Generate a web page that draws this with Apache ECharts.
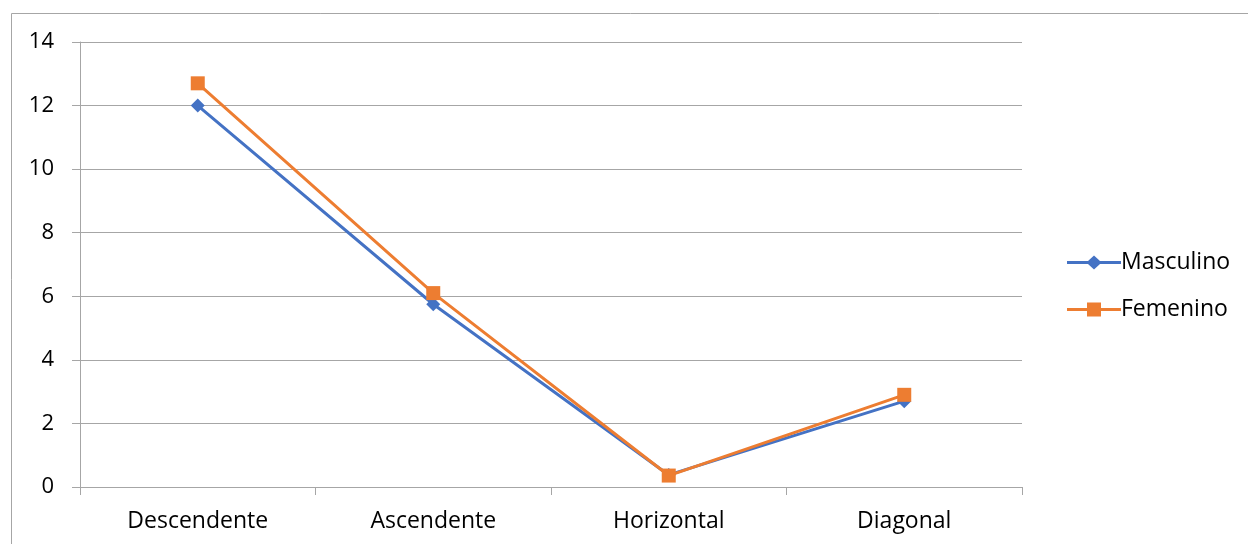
<!DOCTYPE html>
<html>
<head>
<meta charset="utf-8">
<script src="https://cdn.jsdelivr.net/npm/echarts@6/dist/echarts.min.js"></script>
<style>
  html, body { margin: 0; padding: 0; background: #fff; }
  #chart { width: 1248px; height: 544px; }
</style>
</head>
<body>
<div id="chart"></div>
<script>
// Categories and values per series
const categories = ['Descendente', 'Ascendente', 'Horizontal', 'Diagonal'];
const masculino = [12.0, 5.75, 0.38, 2.7];
const femenino = [12.7, 6.1, 0.36, 2.9];
const yTicks = { min: 0, max: 14, interval: 2 };

const FONT = '"Open Sans", Lato, sans-serif';

// Legend icons: thick line with the series marker in the middle (54 x 14 box)
const iconDiamond = 'path://M0,5.5H21L27,0L33,5.5H54V8.5H33L27,14L21,8.5H0Z';
const iconSquare = 'path://M0,5.5H20V0H34V5.5H54V8.5H34V14H20V8.5H0Z';

const chart = echarts.init(document.getElementById('chart'), null, { renderer: 'canvas' });

chart.setOption({
  backgroundColor: '#fff',
  animation: false,
  graphic: [{
    type: 'rect',
    shape: { x: 11.5, y: 13.5, width: 1400, height: 700 },
    style: { fill: 'none', stroke: '#a6a6a6', lineWidth: 1 },
    silent: true
  }],
  grid: { left: 80, right: 226, top: 42, bottom: 57, containLabel: false },
  legend: {
    orient: 'vertical',
    left: 1062,
    top: 246,
    itemWidth: 54,
    itemHeight: 14,
    itemGap: 24,
    textStyle: { fontFamily: FONT, fontSize: 23, color: '#000', padding: [0, 0, 0, -5] },
    data: [
      { name: 'Masculino', icon: iconDiamond, itemStyle: { color: '#4472c4' } },
      { name: 'Femenino', icon: iconSquare, itemStyle: { color: '#ed7d31' } }
    ]
  },
  xAxis: {
    type: 'category',
    data: categories,
    boundaryGap: true,
    axisLine: { lineStyle: { color: '#a6a6a6', width: 1 } },
    axisTick: { show: true, length: 8, lineStyle: { color: '#a6a6a6' } },
    axisLabel: { fontFamily: FONT, fontSize: 23, color: '#000', margin: 23 }
  },
  yAxis: {
    type: 'value',
    min: yTicks.min,
    max: yTicks.max,
    interval: yTicks.interval,
    axisLine: { show: true, lineStyle: { color: '#a6a6a6', width: 1 } },
    axisTick: { show: true, length: 8, lineStyle: { color: '#a6a6a6' } },
    splitLine: { lineStyle: { color: '#a6a6a6', width: 1 } },
    axisLabel: { fontFamily: FONT, fontSize: 22, color: '#000', margin: 26 }
  },
  series: [
    {
      name: 'Masculino',
      type: 'line',
      data: masculino,
      symbol: 'diamond',
      symbolSize: 14,
      itemStyle: { color: '#4472c4' },
      lineStyle: { color: '#4472c4', width: 3 }
    },
    {
      name: 'Femenino',
      type: 'line',
      data: femenino,
      symbol: 'rect',
      symbolSize: 14,
      itemStyle: { color: '#ed7d31' },
      lineStyle: { color: '#ed7d31', width: 3 }
    }
  ]
});
</script>
</body>
</html>
